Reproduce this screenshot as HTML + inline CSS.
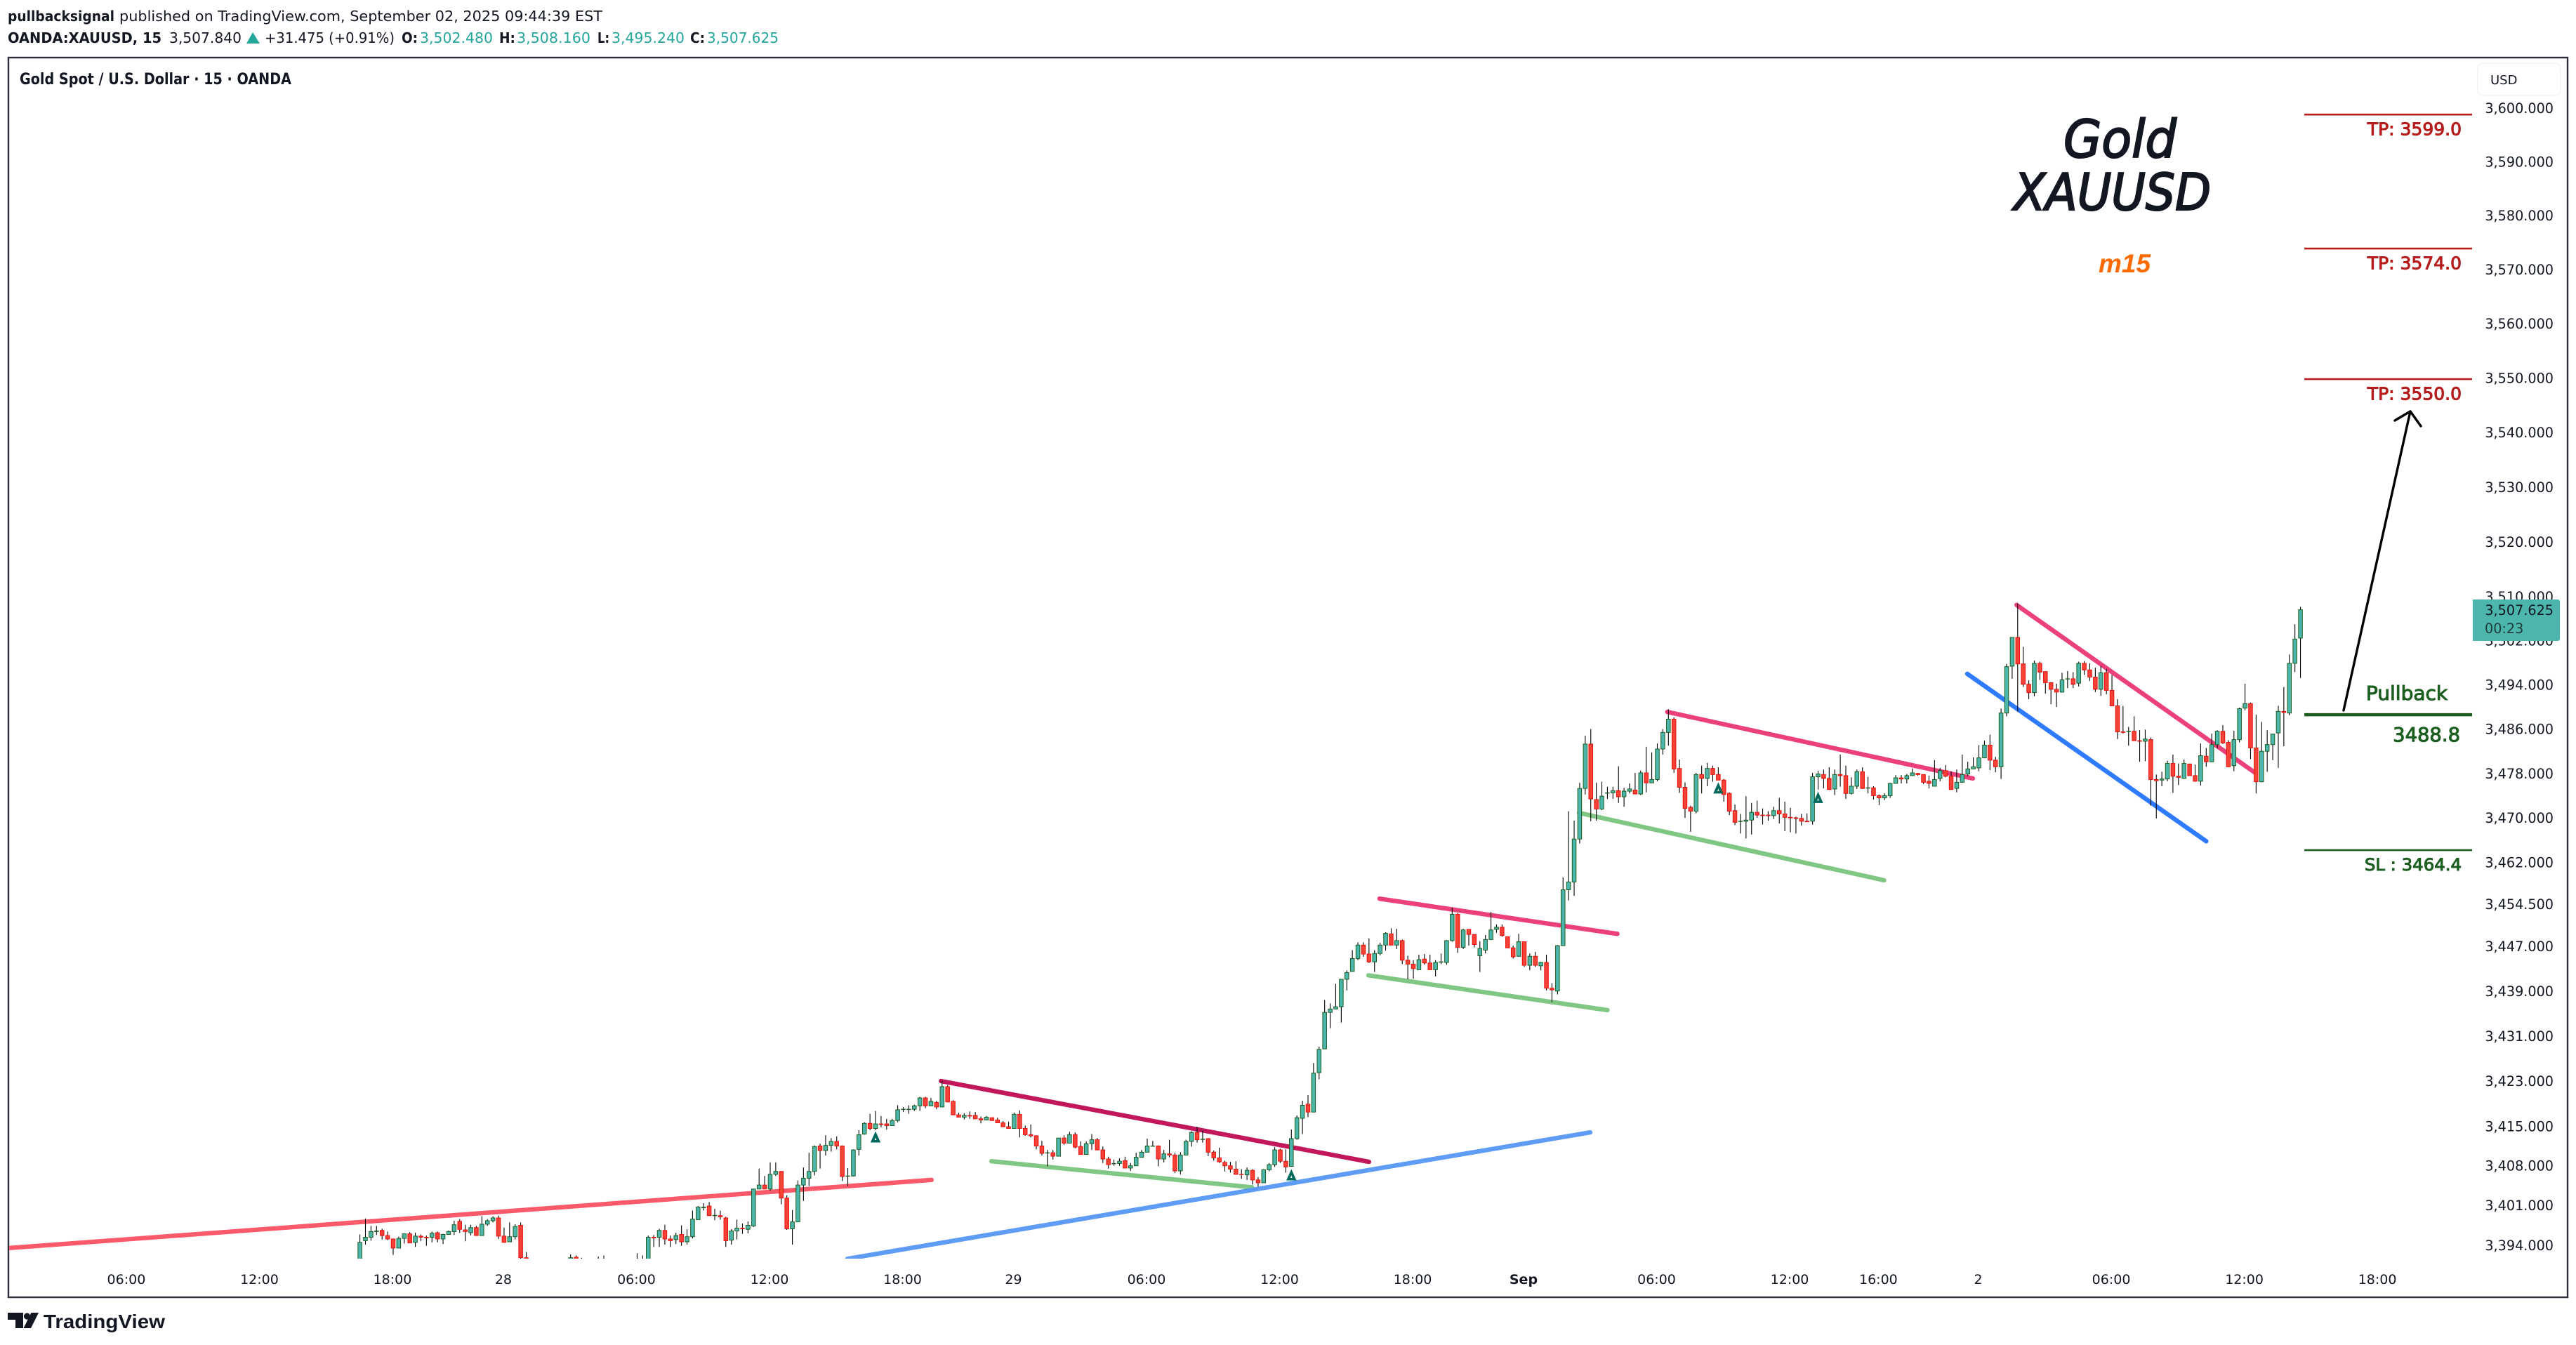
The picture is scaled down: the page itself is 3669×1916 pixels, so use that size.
<!DOCTYPE html>
<html lang="en">
<head>
<meta charset="utf-8">
<title>Gold Spot / U.S. Dollar chart</title>
<style>
html,body{margin:0;padding:0;background:#fff;width:3669px;height:1916px;overflow:hidden}
svg{display:block}
text{font-family:"DejaVu Sans","Liberation Sans",sans-serif}
</style>
</head>
<body>
<svg id="chart" xmlns="http://www.w3.org/2000/svg" width="3669" height="1916" viewBox="0 0 3669 1916">
<defs><clipPath id="pane"><rect x="13" y="83" width="3509" height="1710"/></clipPath></defs>
<rect x="0" y="0" width="3669" height="1916" fill="#ffffff"/>

<g font-size="20" fill="#131722">
<text x="11" y="30" font-weight="bold" textLength="152" lengthAdjust="spacingAndGlyphs">pullbacksignal</text>
<text x="170" y="30" textLength="688" lengthAdjust="spacingAndGlyphs">published on TradingView.com, September 02, 2025 09:44:39 EST</text>
</g>
<g font-size="20" fill="#131722">
<text x="11" y="61" font-weight="bold" textLength="219" lengthAdjust="spacingAndGlyphs">OANDA:XAUUSD, 15</text>
<text x="241" y="61" textLength="103" lengthAdjust="spacingAndGlyphs">3,507.840</text>
<polygon points="360,46 351,62 370,62" fill="#26a69a"/>
<text x="377" y="61" textLength="185" lengthAdjust="spacingAndGlyphs">+31.475 (+0.91%)</text>
<text x="572" y="61" font-weight="bold" textLength="23" lengthAdjust="spacingAndGlyphs">O:</text>
<text x="598" y="61" fill="#26a69a" textLength="104" lengthAdjust="spacingAndGlyphs">3,502.480</text>
<text x="711" y="61" font-weight="bold" textLength="23" lengthAdjust="spacingAndGlyphs">H:</text>
<text x="736" y="61" fill="#26a69a" textLength="105" lengthAdjust="spacingAndGlyphs">3,508.160</text>
<text x="851" y="61" font-weight="bold" textLength="17" lengthAdjust="spacingAndGlyphs">L:</text>
<text x="871" y="61" fill="#26a69a" textLength="104" lengthAdjust="spacingAndGlyphs">3,495.240</text>
<text x="983" y="61" font-weight="bold" textLength="21" lengthAdjust="spacingAndGlyphs">C:</text>
<text x="1007" y="61" fill="#26a69a" textLength="102" lengthAdjust="spacingAndGlyphs">3,507.625</text>
</g>

<rect x="12" y="82" width="3645" height="1766" fill="none" stroke="#2a2e39" stroke-width="2.4"/>
<text x="28" y="120" font-size="22" font-weight="bold" fill="#131722" textLength="387" lengthAdjust="spacingAndGlyphs">Gold Spot / U.S. Dollar · 15 · OANDA</text>

<g id="trendLayer" clip-path="url(#pane)"></g>
<g id="candleLayer" clip-path="url(#pane)"></g>
<g id="markerLayer"></g>
<g id="levelLayer"></g>

<g font-size="25" stroke-width="1">
<text id="lab0" x="3506" text-anchor="end" fill="#b71c1c" stroke="#b71c1c">TP: 3599.0</text>
<text id="lab1" x="3506" text-anchor="end" fill="#b71c1c" stroke="#b71c1c">TP: 3574.0</text>
<text id="lab2" x="3506" text-anchor="end" fill="#b71c1c" stroke="#b71c1c">TP: 3550.0</text>
<text x="3428" y="997" font-size="28" text-anchor="middle" fill="#1b5e20" stroke="#1b5e20">Pullback</text>
<text id="lab3" x="3504" font-size="27.4" text-anchor="end" fill="#1b5e20" stroke="#1b5e20">3488.8</text>
<text id="lab4" x="3506" font-size="24.4" text-anchor="end" fill="#1b5e20" stroke="#1b5e20">SL : 3464.4</text>
</g>

<g fill="none" stroke="#000000" stroke-width="3.4" stroke-linecap="round" stroke-linejoin="round">
<line x1="3338" y1="1012" x2="3433" y2="586"/>
<polyline points="3411,599 3433,586 3448,607"/>
</g>

<g fill="#131722" stroke="#131722" stroke-width="2.2" font-style="italic">
<text x="2939" y="224" font-size="74" textLength="161" lengthAdjust="spacingAndGlyphs">Gold</text>
<text x="2868" y="299" font-size="72" textLength="281" lengthAdjust="spacingAndGlyphs">XAUUSD</text>
</g>
<text x="2989" y="388" font-size="37" font-weight="bold" font-style="italic" fill="#ff6a00" style="font-family:'Liberation Sans',sans-serif">m15</text>

<g id="priceAxis"></g>
<g>
<rect x="3529" y="90" width="118" height="46" rx="8" fill="#ffffff" stroke="#f0f3fa" stroke-width="1.5"/>
<text x="3547" y="120" font-size="18" fill="#131722">USD</text>
</g>
<g>
<path d="M3522 854H3643a3 3 0 0 1 3 3V910a3 3 0 0 1-3 3H3522Z" fill="#4db6ac"/>
<text x="3637" y="876" font-size="19.2" text-anchor="end" fill="#131722">3,507.625</text>
<text x="3539" y="902" font-size="19.2" fill="#1f3a3a">00:23</text>
</g>
<g id="timeAxis"></g>

<g fill="#131722">
<path d="M11 1870H33V1892H22V1880H11Z"/>
<circle cx="38.5" cy="1875" r="4.6"/>
<path d="M44.500 1870H55L44 1892H33.500Z"/>
<text x="62" y="1892" font-size="28" font-weight="bold" textLength="173" lengthAdjust="spacingAndGlyphs" style="font-family:'Liberation Sans',sans-serif">TradingView</text>
</g>
</svg>

<script>
var opens=[
3385,3394.8,3395.4,3396.4,3396.6,3395.7,3395.1,3393.5,3395.2,3396.0,
3394.5,3395.6,3395.4,3395.4,3396.2,3395.1,3395.9,3396.4,3398.2,3396.7,
3396.2,3397.1,3395.7,3397.7,3398.3,3398.8,3395.6,3394.6,3395.5,3397.5,
3391.8,3388,3387,3386.5,3388,3387.5,3389,3388.5,3389,3391.9,
3389.5,3390.5,3389.5,3390,3390.5,3389.5,3388.5,3389,3389.5,3390,
3389.5,3390,3388,3395.4,3395.4,3396.6,3395.1,3395.0,3395.9,3394.6,
3395.5,3398.5,3400.6,3400.9,3399.2,3399.2,3398.8,3394.9,3396.5,3397.0,
3396.8,3397.4,3403.9,3404.6,3403.9,3406.5,3407.0,3402.3,3396.9,3398.1,
3404.6,3405.8,3407.0,3411.5,3410.7,3411.6,3412.3,3411.5,3406.2,3406.2,
3410.9,3413.6,3415.5,3414.6,3415.4,3415.4,3415.1,3416.0,3418.0,3418.0,
3418.0,3418.6,3420.0,3418.6,3419.2,3418.4,3422.0,3419.4,3417.0,3416.6,
3416.9,3416.9,3416.3,3416.1,3416.5,3416.1,3415.6,3414.9,3414.6,3417.1,
3414.6,3413.5,3413.3,3411.5,3410.3,3410.3,3409.7,3412.9,3412.0,3413.5,
3411.4,3410.0,3411.9,3412.6,3410.8,3409.2,3408.4,3408.4,3408.9,3407.6,
3408.0,3409.5,3410.4,3411.5,3411.5,3409.2,3410.1,3409.9,3407.1,3409.9,
3412.3,3413.9,3412.7,3412.8,3410.4,3409.4,3408.6,3408.0,3407.4,3406.5,
3406.4,3407.2,3405.5,3405.0,3407.3,3408.2,3410.8,3408.8,3407.9,3412.8,
3416.4,3418.9,3417.5,3424.5,3428.7,3435.2,3435.8,3436.2,3441.1,3442.5,
3444.8,3447.2,3445.6,3444.2,3445.7,3447.2,3449.2,3447.2,3448.0,3444.5,
3443.8,3442.8,3444.7,3444.0,3442.8,3444.2,3444.1,3448.0,3452.7,3446.8,
3450.0,3449.1,3445.3,3446.3,3448.2,3450.0,3450.4,3448.7,3446.7,3445.2,
3447.8,3443.6,3445.2,3443.5,3444.1,3439.5,3439.0,3447.1,3457.1,3458.5,
3466.2,3475.3,3483.3,3473.3,3471.6,3474.5,3474.5,3474.9,3473.8,3474.8,
3475.0,3474.3,3478.1,3476.3,3476.9,3482.4,3485.4,3487.8,3478.9,3475.5,
3471.9,3471.2,3477.8,3477.1,3478.9,3477.8,3476.8,3474.4,3471.3,3469.4,
3469.4,3469.6,3471.0,3470.5,3470.5,3470.4,3471.3,3470.7,3470.1,3470.0,
3469.9,3469.4,3469.4,3477.4,3477.8,3477.1,3475.2,3477.8,3477.6,3474.4,
3475.7,3478.3,3475.4,3475.4,3474.0,3473.6,3474.0,3476.2,3477.2,3477.0,
3477.6,3478.0,3477.8,3476.6,3475.7,3477.1,3478.5,3477.5,3475.3,3476.4,
3477.9,3478.8,3479.0,3480.8,3483.1,3480.4,3479.2,3488.9,3497.4,3502.6,
3497.8,3494.1,3492.6,3497.9,3496.4,3494.4,3493.2,3492.7,3495.1,3495.1,
3494.3,3497.9,3496.7,3495.4,3493.2,3496.2,3493.0,3490.2,3485.5,3485.6,
3485.6,3483.9,3483.8,3484.1,3476.9,3476.8,3477.0,3479.8,3477.5,3477.1,
3479.7,3477.6,3476.6,3481.1,3480.1,3483.2,3485.6,3483.6,3479.4,3484.1,
3489.8,3490.6,3482.6,3476.5,3482.0,3483.2,3485.3,3489.2,3488.9,3497.9,3502.48];
var highs=[
3395.9,3398.7,3397.4,3397.4,3396.9,3396.4,3395.1,3395.5,3396.0,3396.3,
3396.2,3395.9,3395.7,3396.4,3396.4,3396.0,3396.6,3398.3,3398.6,3397.6,
3397.6,3397.4,3399.1,3398.6,3399.1,3399.2,3397.1,3398.0,3397.7,3398.0,
3392.8,3389.5,3388.5,3389,3389.5,3390,3390.5,3390.8,3392.4,3392.2,
3391.8,3391,3391,3392,3392.2,3390.5,3390,3390.5,3391,3391,
3392.6,3392.2,3395.7,3395.8,3396.9,3397.6,3395.7,3396.2,3397.5,3396.8,
3400.1,3400.9,3401.4,3401.6,3400.4,3400.1,3399.0,3396.8,3398.5,3397.8,
3398.2,3403.9,3407.5,3406.2,3408.6,3408.6,3407.0,3402.8,3400.2,3405.4,
3407.7,3410.3,3411.6,3411.9,3413.4,3412.9,3413.2,3411.6,3407.6,3410.9,
3414.3,3415.7,3417.2,3417.7,3416.8,3416.3,3416.3,3418.7,3418.4,3418.7,
3418.8,3420.2,3420.2,3420.0,3419.5,3423.0,3422.3,3419.6,3417.4,3417.3,
3417.6,3417.5,3416.7,3416.8,3416.5,3416.5,3415.9,3415.8,3417.4,3417.8,
3415.1,3415.3,3413.4,3412.4,3410.8,3410.8,3412.9,3413.4,3414.0,3413.9,
3412.3,3412.3,3413.6,3412.9,3411.4,3409.6,3409.1,3409.3,3409.6,3408.5,
3410.3,3410.8,3412.8,3412.4,3411.6,3410.8,3412.6,3410.3,3410.4,3412.6,
3414.1,3414.9,3414.2,3412.9,3410.7,3411.2,3408.9,3408.7,3408.8,3407.4,
3407.7,3407.4,3406.0,3407.4,3408.5,3411.3,3411.0,3410.9,3414.4,3416.9,
3419.5,3420.5,3426.2,3429.1,3437.4,3436.8,3440.3,3441.1,3442.7,3446.3,
3447.7,3447.7,3448.4,3446.3,3447.6,3449.5,3450.2,3450.1,3448.2,3445.3,
3444.5,3445.5,3445.6,3445.5,3444.5,3445.7,3448.1,3453.9,3452.9,3450.1,
3450.0,3449.1,3447.9,3449.0,3453.1,3450.9,3450.9,3448.7,3447.1,3449.2,
3447.8,3445.7,3446.0,3444.2,3445.5,3440.4,3447.2,3459.3,3471.2,3469.5,
3476.3,3484.8,3486.0,3476.3,3476.5,3475.6,3475.6,3479.3,3475.4,3476.2,
3478.1,3478.5,3482.8,3481.8,3483.4,3486.0,3489.6,3488.1,3480.5,3476.4,
3472.2,3478.1,3479.4,3479.9,3479.4,3479.1,3477.0,3474.6,3472.4,3470.7,
3473.9,3472.7,3473.1,3471.7,3471.2,3472.0,3473.6,3472.9,3471.8,3470.2,
3470.7,3470.8,3478.1,3478.5,3478.7,3479.1,3478.7,3481.4,3479.4,3477.3,
3478.7,3479.1,3477.4,3475.7,3474.2,3474.4,3476.3,3477.7,3477.7,3477.9,
3478.9,3478.1,3477.8,3477.6,3480.4,3479.0,3479.5,3478.4,3478.7,3481.4,
3480.1,3480.9,3483.1,3483.9,3485.0,3481.0,3489.7,3497.8,3502.6,3508.8,
3500.9,3494.8,3498.4,3498.2,3496.4,3494.4,3494.2,3496.2,3496.5,3496.3,
3498.2,3498.3,3497.9,3497.1,3497.4,3496.9,3495.8,3491.4,3490.2,3486.4,
3488.3,3485.8,3485.9,3484.5,3477.8,3478.3,3480.3,3481.4,3479.8,3480.5,
3479.7,3479.6,3483.4,3482.6,3485.2,3485.8,3486.7,3484.0,3485.7,3489.9,
3494.2,3490.8,3488.6,3487.3,3485.8,3485.1,3490.2,3493.6,3499.5,3505.0,3508.16];
var lows=[
3384,3394.1,3394.8,3395.8,3395.0,3394.9,3392.3,3393.5,3394.3,3394.4,
3393.7,3394.7,3393.9,3394.5,3394.5,3394.2,3395.9,3395.8,3396.2,3394.7,
3395.7,3395.7,3395.7,3397.4,3398.0,3395.1,3394.5,3394.6,3395.0,3391.5,
3387,3386,3385,3385.5,3387,3387,3388,3388,3388.5,3389,
3388.5,3388.5,3388,3389.5,3389,3388,3387.5,3388,3388.5,3389,
3389,3387.5,3387.5,3393.7,3393.7,3394.1,3393.7,3394.2,3393.9,3394.1,
3395.2,3398.5,3400.1,3399.2,3398.4,3398.5,3393.7,3394.1,3395.0,3396.0,
3396.1,3397.2,3403.9,3403.9,3403.6,3406.2,3401.2,3396.7,3394.1,3398.1,
3401.8,3404.4,3406.3,3407.5,3409.8,3410.5,3410.9,3405.3,3404.4,3406.1,
3409.8,3413.5,3414.3,3414.3,3414.8,3414.4,3415.1,3415.7,3417.5,3417.2,
3417.7,3417.7,3418.2,3418.6,3418.0,3418.4,3419.2,3417.0,3416.6,3416.2,
3416.3,3416.3,3415.5,3416.1,3416.0,3415.6,3414.9,3414.6,3414.6,3413.0,
3413.3,3413.0,3410.9,3409.8,3407.9,3409.1,3409.7,3411.7,3412.0,3411.1,
3410.0,3410.0,3410.8,3410.8,3408.5,3407.5,3408.0,3408.0,3407.6,3407.1,
3408.0,3409.5,3410.4,3411.4,3407.9,3408.6,3409.5,3406.7,3406.5,3409.9,
3411.4,3412.1,3412.1,3409.7,3408.9,3408.5,3407.0,3406.8,3406.4,3405.7,
3405.5,3404.7,3404.3,3405.0,3407.0,3407.8,3408.5,3406.8,3407.9,3412.6,
3413.6,3416.6,3417.5,3423.3,3428.7,3432.4,3435.8,3433.4,3439.1,3442.5,
3444.5,3445.1,3444.0,3442.4,3445.4,3446.2,3447.2,3446.5,3443.8,3441.1,
3441.2,3442.8,3443.7,3442.8,3441.6,3443.8,3443.7,3447.8,3445.8,3446.5,
3447.1,3446.8,3442.4,3445.7,3448.1,3449.4,3448.7,3446.7,3444.8,3445.1,
3443.3,3442.7,3443.3,3442.7,3439.1,3437.0,3438.4,3447.1,3455.2,3456.0,
3465.4,3474.2,3469.4,3469.5,3471.4,3473.4,3473.4,3472.7,3472.0,3474.4,
3474.3,3474.1,3474.6,3476.3,3476.6,3481.4,3483.0,3478.1,3474.5,3470.0,
3467.5,3470.8,3474.4,3475.7,3476.5,3476.8,3472.9,3470.5,3468.7,3467.2,
3466.3,3467.0,3470.0,3468.8,3469.5,3469.8,3469.0,3467.6,3467.4,3467.2,
3468.6,3469.3,3468.8,3475.1,3475.3,3475.1,3474.1,3475.6,3473.4,3474.2,
3475.2,3475.2,3474.4,3473.3,3472.3,3473.2,3473.6,3476.2,3476.2,3476.2,
3477.6,3477.6,3476.1,3475.3,3475.7,3476.6,3477.3,3475.1,3474.6,3476.4,
3477.5,3478.8,3478.4,3480.8,3478.6,3478.2,3477.0,3488.3,3495.1,3489.2,
3493.6,3491.4,3491.9,3494.9,3492.4,3490.5,3490.0,3492.6,3493.4,3493.4,
3493.7,3495.8,3494.7,3492.7,3492.0,3492.3,3490.2,3484.2,3485.2,3483.0,
3483.9,3480.1,3480.2,3472.2,3469.9,3475.7,3476.6,3474.5,3475.9,3477.1,
3477.6,3476.5,3475.8,3479.2,3480.1,3482.5,3483.3,3479.1,3478.4,3483.6,
3489.4,3480.6,3474.4,3476.4,3478.3,3480.4,3479.0,3482.9,3488.5,3496.3,3495.24];
var closes=[
3394.5,3395.4,3396.4,3396.5,3395.7,3395.1,3393.5,3395.2,3396.0,3394.4,
3395.6,3395.4,3395.3,3396.1,3395.1,3395.9,3396.4,3397.6,3396.8,3396.4,
3397.1,3395.7,3397.7,3398.3,3398.8,3395.6,3394.5,3395.5,3397.3,3391.8,
3388,3387,3386.5,3388,3387.5,3389,3388.5,3389,3391.8,3389.5,
3390.5,3389.5,3390,3390.5,3389.5,3388.5,3389,3389.5,3390,3389.5,
3390,3388,3395.4,3395.3,3396.6,3395.1,3394.8,3395.7,3394.6,3395.5,
3398.6,3400.7,3400.7,3399.2,3399.25,3399.0,3394.8,3396.5,3397.0,3396.9,
3397.5,3403.9,3404.6,3403.9,3406.5,3407.0,3402.3,3396.9,3398.1,3404.6,
3405.8,3407.0,3411.4,3410.7,3411.6,3412.3,3411.5,3406.1,3406.2,3410.8,
3413.5,3415.5,3414.6,3415.4,3415.3,3415.1,3416.0,3417.9,3418.0,3418.0,
3418.6,3420.0,3418.6,3419.4,3418.4,3422.0,3419.3,3417.0,3416.6,3416.9,
3416.8,3416.3,3416.1,3416.6,3416.0,3415.6,3414.9,3414.6,3417.1,3414.6,
3413.5,3413.3,3411.5,3410.2,3410.3,3409.7,3412.9,3412.0,3413.5,3411.3,
3410.0,3411.9,3412.6,3410.8,3409.2,3408.2,3408.4,3408.8,3407.6,3408.0,
3409.5,3410.4,3411.5,3411.5,3409.2,3410.1,3409.9,3407.1,3409.9,3412.3,
3413.9,3412.6,3412.7,3410.4,3409.4,3408.7,3408.0,3407.4,3406.5,3406.45,
3407.2,3405.5,3405.0,3407.3,3408.2,3410.8,3408.8,3407.8,3412.8,3416.5,
3418.7,3417.5,3424.4,3428.6,3435.2,3435.8,3436.2,3441.1,3442.3,3444.8,
3447.2,3445.6,3444.2,3445.7,3447.2,3449.3,3447.2,3448.0,3444.5,3443.8,
3443.0,3444.6,3444.0,3442.8,3444.1,3444.2,3448.0,3452.7,3446.8,3449.9,
3449.1,3447.3,3446.6,3448.2,3449.9,3450.4,3448.9,3446.7,3445.1,3447.8,
3443.6,3445.2,3443.6,3444.1,3439.5,3439.2,3447.1,3457.1,3458.5,3466.2,
3475.3,3483.3,3473.4,3471.6,3473.9,3474.5,3474.9,3473.8,3474.8,3475.2,
3474.3,3478.1,3476.3,3476.9,3482.4,3485.4,3487.8,3478.8,3475.5,3471.7,
3471.2,3477.8,3477.1,3478.9,3477.8,3476.8,3474.2,3471.2,3469.2,3469.4,
3469.6,3471.0,3470.5,3470.4,3470.4,3471.3,3470.7,3470.1,3470.0,3469.9,
3469.4,3469.3,3477.4,3477.9,3477.1,3475.1,3477.8,3477.6,3474.4,3475.7,
3478.3,3475.3,3475.4,3474.0,3473.6,3474.0,3476.2,3477.2,3477.0,3477.6,
3478.1,3477.8,3476.4,3476.2,3476.9,3478.5,3477.5,3475.1,3476.4,3477.8,
3478.8,3479.2,3480.8,3483.1,3480.4,3479.2,3488.9,3497.3,3502.6,3497.8,
3494.1,3492.6,3497.9,3496.3,3494.4,3493.2,3492.7,3494.9,3495.1,3494.1,
3497.9,3496.7,3495.4,3493.2,3496.2,3493.0,3490.2,3485.5,3485.4,3485.6,
3483.9,3483.8,3484.2,3476.9,3476.7,3477.0,3479.8,3477.5,3477.3,3479.8,
3477.6,3476.6,3481.2,3480.1,3483.2,3485.6,3483.5,3479.2,3484.1,3489.7,
3490.6,3482.6,3476.5,3482.0,3483.2,3485.1,3489.2,3489.0,3497.9,3502.3,3507.625];

var priceTicks=[3600,3590,3580,3570,3560,3550,3540,3530,3520,3510,3502,3494,3486,3478,3470,3462,3454.5,3447,3439,3431,3423,3415,3408,3401,3394];
var timeTickBars=[-42,-18,6,26,50,74,98,118,142,166,190,210,234,258,274,292,316,340,364];
var timeTickLabels=["06:00","12:00","18:00","28","06:00","12:00","18:00","29","06:00","12:00","18:00","Sep","06:00","12:00","16:00","2","06:00","12:00","18:00"];

var trendStartBars=[-63.4,104.8,113.9,87.9,183.9,181.9,235.8,219.9,298.8,289.9];
var trendStartPrices=[3393.5,3423.0,3408.8,3391.6,3455.5,3441.8,3489.1,3470.9,3508.5,3496.0];
var trendEndBars=[103.1,182,160.9,221.9,226.8,225,290.9,274.9,341.7,333];
var trendEndPrices=[3405.5,3408.7,3404.2,3413.9,3449.2,3435.6,3477.1,3458.8,3478.2,3465.8];
var trendNames=["red-support-line","magenta-resistance-line","green-channel-line-1","blue-support-line","pink-resistance-line-1","green-channel-line-2","pink-resistance-line-2","green-channel-line-3","pink-resistance-line-3","blue-channel-line"];
var trendColors=["#fb5a6b","#c2185b","#81c784","#5e9cf6","#ec407a","#81c784","#ec407a","#81c784","#ec407a","#2f7bff"];

var levelPrices=[3598.8,3573.9,3549.8,3488.6,3464.2];
var levelNames=["tp-3599-line","tp-3574-line","tp-3550-line","pullback-line","stop-loss-line"];
var levelColors=["#b71c1c","#b71c1c","#b71c1c","#1b5e20","#1b5e20"];

var markerBars=[93,168,245,263];
var markerPrices=[3414.1,3407.4,3476.4,3474.7];

var svgNS="http://www.w3.org/2000/svg";
var X0=512.6, BAR=7.897, Y_REF=850, P_REF=3510, K=27490;
function xOf(bar){return X0+BAR*bar;}
function yOf(price){return Y_REF+K*Math.log(P_REF/price);}
function make(tag,parent){var el=document.createElementNS(svgNS,tag);parent.appendChild(el);return el;}

var trendLayer=document.getElementById('trendLayer');
trendStartBars.forEach(function(b,i){
  var ln=make('line',trendLayer);
  
  
  ln.setAttribute('x1',xOf(b));
  ln.setAttribute('y1',yOf(trendStartPrices[i]));
  ln.setAttribute('x2',xOf(trendEndBars[i]));
  ln.setAttribute('y2',yOf(trendEndPrices[i]));
  ln.setAttribute('stroke',trendColors[i]);
  ln.setAttribute('stroke-width','6.4');
  ln.setAttribute('stroke-linecap','round');
});

var candleLayer=document.getElementById('candleLayer');
opens.forEach(function(o,i){
  var c=closes[i], up=c>=o, x=xOf(i);
  var g=make('g',candleLayer);
  
  
  var w=make('line',g);
  
  
  w.setAttribute('x1',x);
  w.setAttribute('x2',x);
  w.setAttribute('y1',yOf(highs[i]));
  w.setAttribute('y2',yOf(lows[i]));
  w.setAttribute('stroke','#000000');
  w.setAttribute('stroke-width','1.1');
  var top=yOf(Math.max(o,c)), bot=yOf(Math.min(o,c));
  var b=make('rect',g);
  
  
  b.setAttribute('x',x-2.75);
  b.setAttribute('y',top);
  b.setAttribute('width','5.5');
  b.setAttribute('height',Math.max(bot-top,0.4));
  b.setAttribute('fill',up?'#4db6ac':'#f44336');
  b.setAttribute('stroke',up?'#1b5e20':'#e8100f');
  b.setAttribute('stroke-width','1');
});

var markerLayer=document.getElementById('markerLayer');
markerBars.forEach(function(b,i){
  var x=xOf(b), y=yOf(markerPrices[i]);
  var t=make('path',markerLayer);
  
  
  t.setAttribute('d','M'+x+' '+y+'L'+(x+7.2)+' '+(y+16)+'H'+(x-7.2)+'Z M'+x+' '+(y+9)+'L'+(x-1.4)+' '+(y+12.500)+'H'+(x+1.4)+'Z');
  t.setAttribute('fill','#00695c');
  t.setAttribute('fill-rule','evenodd');
});

var levelLayer=document.getElementById('levelLayer');
levelPrices.forEach(function(p,i){
  var ln=make('line',levelLayer);
  
  
  ln.setAttribute('x1',xOf(350.7));
  ln.setAttribute('x2',3521);
  ln.setAttribute('y1',yOf(p));
  ln.setAttribute('y2',yOf(p));
  ln.setAttribute('stroke',levelColors[i]);
  ln.setAttribute('stroke-width',i===3?'4.6':'2.6');
});
document.getElementById('lab0').setAttribute('y',yOf(levelPrices[0])+29.5);
document.getElementById('lab1').setAttribute('y',yOf(levelPrices[1])+29.5);
document.getElementById('lab2').setAttribute('y',yOf(levelPrices[2])+29.5);
document.getElementById('lab3').setAttribute('y',yOf(levelPrices[3])+38);
document.getElementById('lab4').setAttribute('y',yOf(levelPrices[4])+29);

var priceAxis=document.getElementById('priceAxis');
priceTicks.forEach(function(p){
  var t=make('text',priceAxis);
  
  
  t.setAttribute('x','3637');
  t.setAttribute('y',yOf(p)+7);
  t.setAttribute('text-anchor','end');
  t.setAttribute('font-size','19.2');
  t.setAttribute('fill','#131722');
  t.textContent=p.toLocaleString('en-US',{minimumFractionDigits:3,maximumFractionDigits:3});
});

var timeAxis=document.getElementById('timeAxis');
timeTickBars.forEach(function(b,i){
  var t=make('text',timeAxis);
  
  
  t.setAttribute('x',xOf(b)-1);
  t.setAttribute('y','1829');
  t.setAttribute('text-anchor','middle');
  t.setAttribute('font-size','19');
  t.setAttribute('fill','#131722');
  if(timeTickLabels[i]==='Sep'){t.setAttribute('font-weight','bold');}
  t.textContent=timeTickLabels[i];
});
</script>
</body>
</html>
